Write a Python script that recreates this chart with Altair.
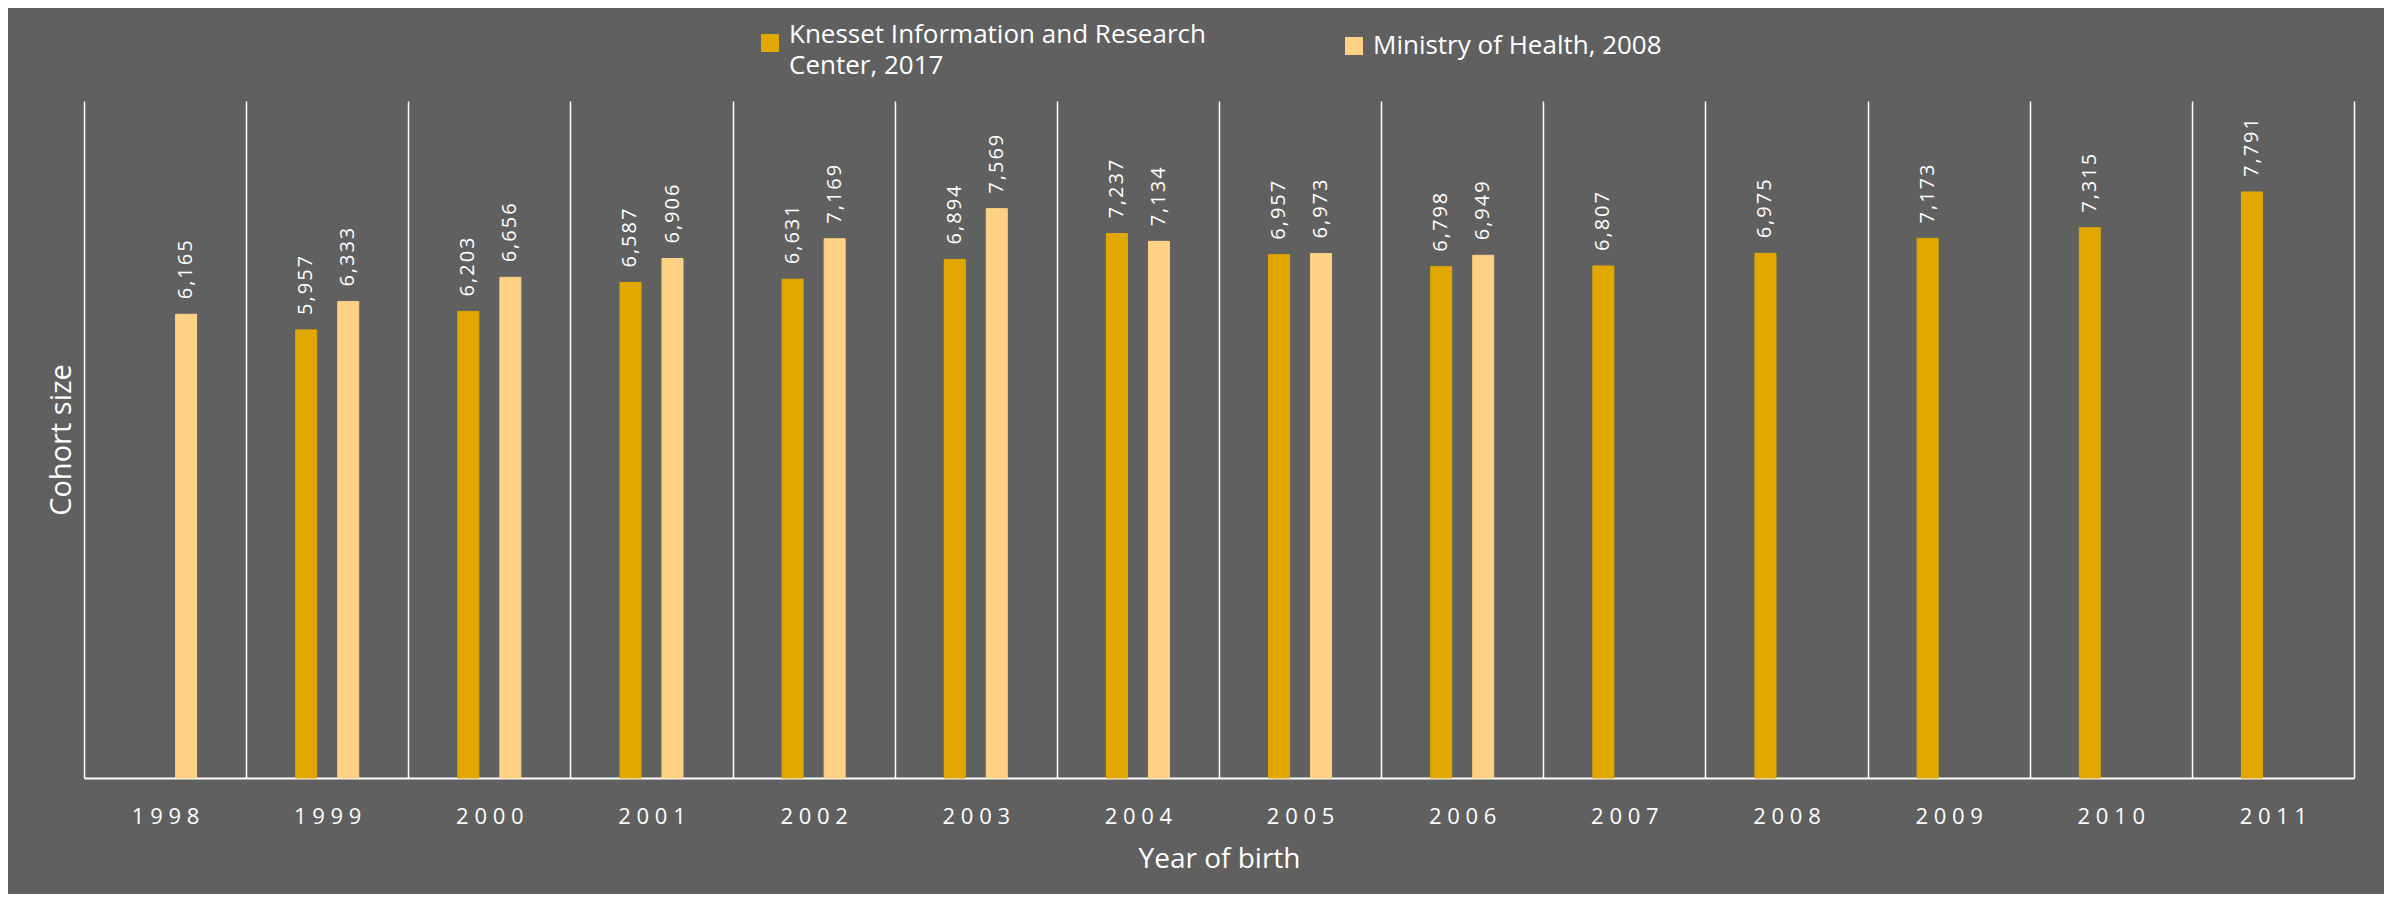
import altair as alt
import pandas as pd

years = [str(y) for y in range(1998, 2012)]
series_names = ["Knesset Information and Research Center, 2017", "Ministry of Health, 2008"]
kirc = [None, 5957, 6203, 6587, 6631, 6894, 7237, 6957, 6798, 6807, 6975, 7173, 7315, 7791]
moh = [6165, 6333, 6656, 6906, 7169, 7569, 7134, 6973, 6949, None, None, None, None, None]
fill_colors = ["#e1a900", "#ffd184"]

rows = []
for y, a, b in zip(years, kirc, moh):
    if a is not None:
        rows.append({"year": y, "series": series_names[0], "value": a})
    if b is not None:
        rows.append({"year": y, "series": series_names[1], "value": b})
df = pd.DataFrame(rows)
df["source"] = df["series"]

FONT = "Open Sans"
BG = "#606060"
HAIR = "\u200a"

x_enc = alt.X(
    "year:N",
    sort=years,
    scale=alt.Scale(paddingInner=0, paddingOuter=0),
    axis=alt.Axis(
        title="Year of birth",
        labelAngle=0,
        ticks=False,
        grid=True,
        gridColor="white",
        gridWidth=1.5,
        gridOpacity=1,
        tickBand="extent",
        domain=True,
        domainColor="white",
        domainWidth=2,
        labelColor="white",
        labelFont=FONT,
        labelFontSize=22,
        labelPadding=28,
        labelExpr="join(split(datum.label, ''), ' ')",
        titleColor="white",
        titleFont=FONT,
        titleFontSize=28,
        titleFontWeight="normal",
        titlePadding=18,
    ),
)
xoff_enc = alt.XOffset(
    "series:N",
    sort=series_names,
    scale=alt.Scale(domain=series_names, paddingInner=0.14, paddingOuter=1),
)
y_enc = alt.Y(
    "value:Q",
    scale=alt.Scale(domain=[0, 9000], nice=False),
    axis=alt.Axis(
        title="Cohort size",
        labels=False,
        ticks=False,
        domain=False,
        grid=False,
        titleColor="white",
        titleFont=FONT,
        titleFontSize=29,
        titleFontWeight="normal",
        titlePadding=8,
    ),
)

base = alt.Chart(df).encode(x=x_enc, xOffset=xoff_enc, y=y_enc)

legend_common = dict(
    title=None,
    orient="none",
    direction="horizontal",
    symbolType="square",
    labelColor="white",
    labelFont=FONT,
    labelFontSize=26,
    labelOffset=6,
    labelLimit=800,
    padding=0,
)

bars = base.mark_bar(strokeWidth=1, width=21).encode(
    fill=alt.Fill(
        "series:N",
        sort=series_names,
        scale=alt.Scale(domain=series_names, range=fill_colors),
        legend=alt.Legend(
            values=[series_names[0]],
            legendX=673,
            legendY=-71,
            symbolSize=324,
            symbolStrokeWidth=0,
            labelBaseline="alphabetic",
            labelExpr="datum.label == 'Knesset Information and Research Center, 2017' ? ['Knesset Information and Research', 'Center, 2017'] : datum.label",
            **legend_common,
        ),
    ),
    stroke=alt.Stroke(
        "source:N",
        scale=alt.Scale(
            domain=[series_names[1], series_names[0]],
            range=[fill_colors[1], fill_colors[0]],
        ),
        legend=alt.Legend(
            values=[series_names[1]],
            legendX=1257,
            legendY=-68,
            symbolSize=81,
            symbolStrokeWidth=9,
            symbolFillColor=fill_colors[1],
            labelBaseline="middle",
            **legend_common,
        ),
    ),
)

labels = base.transform_calculate(
    lbl="join(split(format(datum.value, ','), ''), '" + HAIR + "')"
).mark_text(
    angle=270,
    align="left",
    baseline="middle",
    dx=15,
    fontSize=20,
    font=FONT,
    color="white",
).encode(text="lbl:N")

chart = (
    alt.layer(bars, labels)
    .properties(
        width=2270,
        height=677,
        background=BG,
        padding={"left": 76, "top": 93, "right": 30, "bottom": 116},
        autosize=alt.AutoSizeParams(type="none"),
    )
    .configure(style={"guide-label": {"lineHeight": 31}})
    .configure_view(stroke=None)
)

chart.save("out.html", embed_options={"renderer": "svg", "actions": False})
